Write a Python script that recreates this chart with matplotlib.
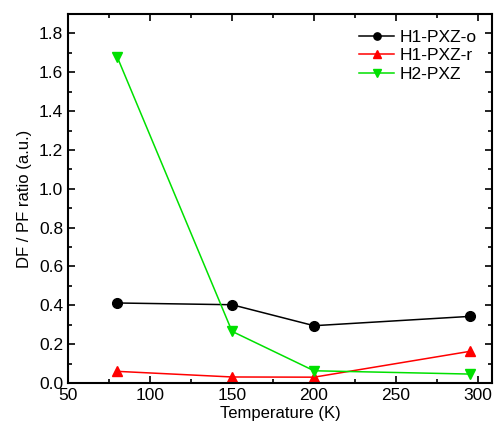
import matplotlib
matplotlib.use("Agg")
import matplotlib.pyplot as plt
from matplotlib.ticker import MultipleLocator

plt.rcParams['font.family'] = ['Liberation Sans', 'DejaVu Sans']

temps = [80, 150, 200, 295]
h1_o = [0.412, 0.403, 0.295, 0.343]
h1_r = [0.060, 0.031, 0.030, 0.163]
h2 = [1.679, 0.266, 0.063, 0.046]
labels = ['H1-PXZ-o', 'H1-PXZ-r', 'H2-PXZ']

fig = plt.figure(figsize=(4.97, 4.30), dpi=100)
ax = fig.add_axes([68/497, 1 - 383/430, (492-68)/497, (383-14)/430])

ax.plot(temps, h1_o, color='black', marker='o', markersize=7, lw=1.1, label=labels[0])
ax.plot(temps, h1_r, color='#ff0000', marker='^', markersize=7.5, lw=1.1, label=labels[1])
ax.plot(temps, h2, color='#00e000', marker='v', markersize=7.5, lw=1.1, label=labels[2])

ax.set_xlim(50, 308.5)
ax.set_ylim(0, 1.9)
ax.xaxis.set_major_locator(MultipleLocator(50))
ax.xaxis.set_minor_locator(MultipleLocator(25))
ax.yaxis.set_major_locator(MultipleLocator(0.2))
ax.yaxis.set_minor_locator(MultipleLocator(0.1))
ax.yaxis.set_major_formatter(matplotlib.ticker.FormatStrFormatter('%.1f'))
ax.tick_params(which='both', direction='in', top=True, right=True, labelsize=12.5, width=1.2)
ax.tick_params(which='major', length=5)
ax.tick_params(which='minor', length=3)
for s in ax.spines.values():
    s.set_linewidth(1.5)

ax.set_xlabel('Temperature (K)', fontsize=12, labelpad=2)
ax.set_ylabel('DF / PF ratio (a.u.)', fontsize=12, labelpad=5)

ax.legend(loc='upper right', frameon=False, fontsize=12.5, handlelength=2.0,
          markerscale=0.75, handletextpad=0.3, labelspacing=0.2, borderaxespad=0.5)

fig.savefig('out.png', dpi=100, facecolor='white')
